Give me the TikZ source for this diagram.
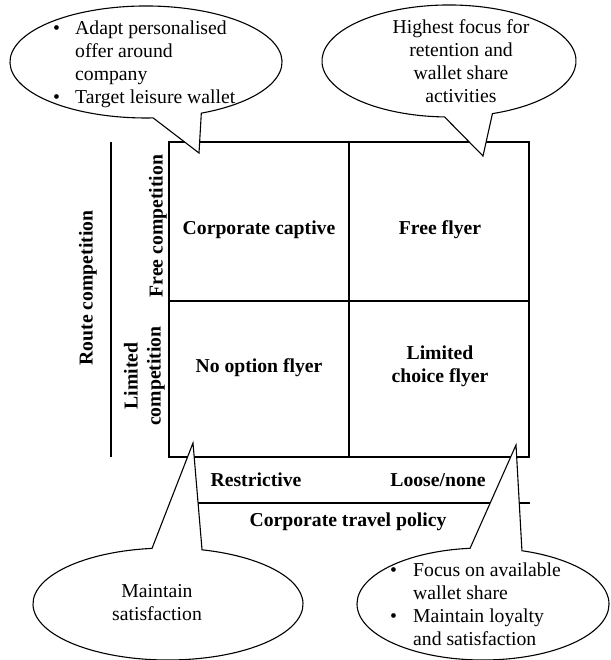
\documentclass[tikz,border=0pt]{standalone}
\usepackage{fontspec}
\setmainfont{Liberation Serif}
\usetikzlibrary{calc}
\newcommand\diagfont{\fontsize{19.7}{23}\selectfont}
\begin{document}
\begin{tikzpicture}[x=1pt,y=1pt,
  every node/.style={font=\diagfont, inner sep=0pt},
  frame/.style={line width=1.1pt},
  bubble/.style={draw, fill=white, line width=1.1pt, line join=miter},
  cell/.style={font=\diagfont\bfseries},
  note/.style={anchor=base west},
  ctext/.style={anchor=base},
]
\useasboundingbox (0,0) rectangle (610,660);

% quadrant grid
\coordinate (gridSW) at (169,203);
\coordinate (gridNE) at (529,518);
\coordinate (midB) at (349,203);
\coordinate (midT) at (349,518);
\coordinate (midL) at (169,359);
\coordinate (midR) at (529,359);
\draw[frame] (gridSW) rectangle (gridNE);
\draw[frame] (midB) -- (midT);
\draw[frame] (midL) -- (midR);

% axis rules
\coordinate (routeTop) at (111,518);
\coordinate (routeBot) at (111,203);
\draw[frame] (routeTop) -- (routeBot);
\coordinate (policyL) at (169,157);
\coordinate (policyR) at (530,157);
\draw[frame] (policyL) -- (policyR);

% quadrant names
\node[cell] (cc) at (259,430) {Corporate captive};
\node[cell] (ff) at (440,430) {Free flyer};
\node[cell] (no) at (259,292) {No option flyer};
\node[cell, align=center] (lc) at (440,293.5) {Limited\\choice flyer};

% axis labels
\node[cell] (restr) at (256,180) {Restrictive};
\node[cell] (loose) at (438,180) {Loose/none};
\node[cell] (policy) at (348,138) {Corporate travel policy};
\node[cell, rotate=90] (route) at (88,372) {Route competition};
\node[cell, rotate=90] (freec) at (158,434) {Free competition};
\node[cell, rotate=90, align=center] (limc) at (144.5,284) {Limited\\competition};

% callout: top left
\coordinate (tlC) at (146,598);
\coordinate (tlTip) at (199,507);
\draw[bubble] ($(tlC)+(-66:136 and 56)$)
  arc[start angle=-66, end angle=273, x radius=136, y radius=56]
  -- (tlTip) -- cycle;
\node[note] (tlText) at (53,625) {\begin{tabular}[t]{@{}l@{}l@{}}
  \makebox[22pt][l]{\textbullet} & Adapt personalised\\
  & offer around\\
  & company\\
  \makebox[22pt][l]{\textbullet} & Target leisure wallet
\end{tabular}};

% callout: top right
\coordinate (trC) at (449,599);
\coordinate (trTip) at (483,504);
\draw[bubble] ($(trC)+(-70:127 and 56)$)
  arc[start angle=-70, end angle=268, x radius=127, y radius=56]
  -- (trTip) -- cycle;
\node[ctext] (trText) at (461,626) {\begin{tabular}[t]{@{}c@{}}
  Highest focus for\\ retention and\\ wallet share\\ activities
\end{tabular}};

% callout: bottom left
\coordinate (blC) at (168,56);
\coordinate (blTip) at (193,217);
\draw[bubble] ($(blC)+(96.8:135 and 56)$)
  arc[start angle=96.8, end angle=435.4, x radius=135, y radius=56]
  -- (blTip) -- cycle;
\node[ctext] (blText) at (157,62) {\begin{tabular}[t]{@{}c@{}}
  Maintain\\ satisfaction
\end{tabular}};

% callout: bottom right
\coordinate (brC) at (483,56);
\coordinate (brTip) at (516,215);
\draw[bubble] ($(brC)+(95.9:126 and 56)$)
  arc[start angle=95.9, end angle=432, x radius=126, y radius=56]
  -- (brTip) -- cycle;
\node[note] (brText) at (390,83) {\begin{tabular}[t]{@{}l@{}l@{}}
  \makebox[23pt][l]{\textbullet} & Focus on available\\
  & wallet share\\
  \makebox[23pt][l]{\textbullet} & Maintain loyalty\\
  & and satisfaction
\end{tabular}};
\end{tikzpicture}
\end{document}
